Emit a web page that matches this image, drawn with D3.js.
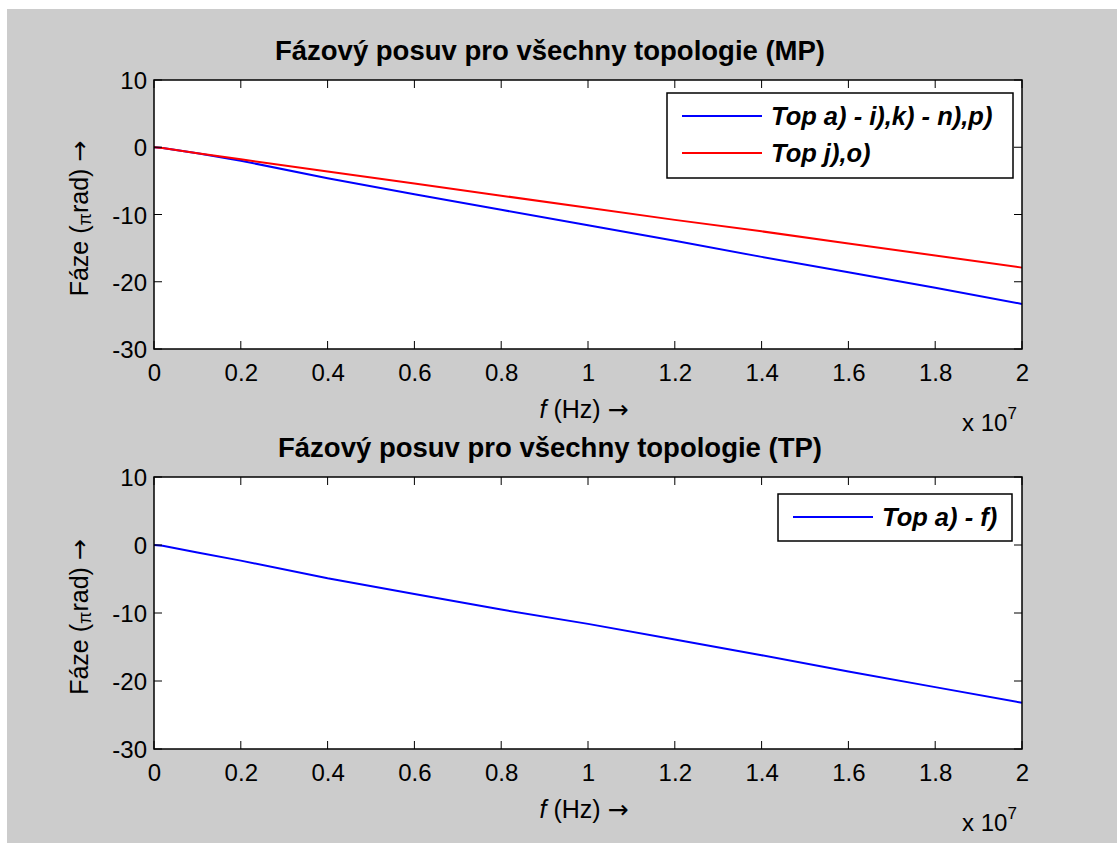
<!DOCTYPE html>
<html><head><meta charset="utf-8">
<script src="https://cdn.jsdelivr.net/npm/d3@7"></script>
<style>
html,body{margin:0;padding:0;background:#fff;}
svg{display:block;}
text{font-family:"Liberation Sans",Arial,sans-serif;fill:#000;}
</style></head>
<body>
<svg id="c" width="1117" height="843"></svg>
<script>
// ---- data ----
const freqMHz10 = [0, 0.02, 0.1, 0.2, 0.4, 0.6, 0.8, 1.0, 1.2, 1.4, 1.6, 1.8, 2.0]; // x in units of 1e7 Hz
const mpBlue = [0, -0.1, -0.9, -2.0, -4.6, -7.0, -9.3, -11.6, -13.9, -16.3, -18.6, -20.9, -23.3];
const mpRed  = [0, -0.1, -0.9, -1.8, -3.6, -5.4, -7.2, -9.0, -10.8, -12.5, -14.3, -16.1, -17.9];
const tpBlue = [0, -0.1, -1.1, -2.3, -4.9, -7.2, -9.5, -11.6, -13.9, -16.2, -18.6, -20.9, -23.2];
const xTicks = [0, 0.2, 0.4, 0.6, 0.8, 1, 1.2, 1.4, 1.6, 1.8, 2];
const yTicks = [10, 0, -10, -20, -30];
const titles = ["Fázový posuv pro všechny topologie (MP)", "Fázový posuv pro všechny topologie (TP)"];
const legendMP = ["Top a) - i),k) - n),p)", "Top j),o)"];
const legendTP = ["Top a) - f)"];

const svg = d3.select("#c");
svg.append("rect").attr("x",7).attr("y",9).attr("width",1110).attr("height",834).attr("fill","#cccccc");

function panel(top, bottom, title, series, legend, legBox) {
  const left = 154, right = 1022;
  const x = d3.scaleLinear().domain([0,2]).range([left,right]);
  const y = d3.scaleLinear().domain([-30,10]).range([bottom,top]);
  const g = svg.append("g");
  g.append("rect").attr("x",left).attr("y",top).attr("width",right-left).attr("height",bottom-top).attr("fill","#fff");
  // lines
  const line = d3.line().x((d,i)=>x(freqMHz10[i])).y(d=>y(d));
  series.forEach(s=>{
    g.append("path").datum(s.v).attr("d",line).attr("fill","none").attr("stroke",s.c).attr("stroke-width",2);
  });
  // axes
  const ax = g.append("g").attr("transform",`translate(0,${bottom})`)
    .call(d3.axisBottom(x).tickValues(xTicks).tickFormat(d=>String(d)).tickSize(0).tickPadding(15));
  ax.select(".domain").remove();
  ax.selectAll("text").attr("font-size",24).attr("font-family","Liberation Sans, Arial, sans-serif");
  const ay = g.append("g").attr("transform",`translate(${left},0)`)
    .call(d3.axisLeft(y).tickValues(yTicks).tickFormat(d=>String(d)).tickSize(0).tickPadding(7));
  ay.select(".domain").remove();
  ay.selectAll("text").attr("font-size",24).attr("dy","0.36em").attr("font-family","Liberation Sans, Arial, sans-serif");
  // inward ticks top/bottom/left/right
  xTicks.forEach(t=>{
    g.append("line").attr("x1",x(t)).attr("x2",x(t)).attr("y1",bottom).attr("y2",bottom-8).attr("stroke","#000");
    g.append("line").attr("x1",x(t)).attr("x2",x(t)).attr("y1",top).attr("y2",top+8).attr("stroke","#000");
  });
  yTicks.forEach(t=>{
    g.append("line").attr("x1",left).attr("x2",left+8).attr("y1",y(t)).attr("y2",y(t)).attr("stroke","#000");
    g.append("line").attr("x1",right).attr("x2",right-8).attr("y1",y(t)).attr("y2",y(t)).attr("stroke","#000");
  });
  g.append("rect").attr("x",left).attr("y",top).attr("width",right-left).attr("height",bottom-top)
    .attr("fill","none").attr("stroke","#000").attr("stroke-width",1.5);
  // title
  g.append("text").attr("x",550).attr("y",top-20).attr("text-anchor","middle")
    .attr("font-size",27.5).attr("font-weight","bold").text(title);
  // x label
  const xl = g.append("text").attr("x",584).attr("y",bottom+69).attr("text-anchor","middle").attr("font-size",25);
  xl.append("tspan").attr("font-style","italic").text("f");
  xl.append("tspan").text(" (Hz) ");
  xl.append("tspan").attr("font-family","DejaVu Sans").text("\u2192");
  const ex = g.append("text").attr("x",962).attr("y",bottom+82).attr("font-size",24);
  ex.append("tspan").text("x 10");
  ex.append("tspan").attr("font-size",17).attr("dy",-12).text("7");
  // y label
  const yl = g.append("text").attr("transform",`translate(88,${(top+bottom)/2 + 4}) rotate(-90)`)
    .attr("text-anchor","middle").attr("font-size",25);
  yl.append("tspan").text("Fáze (");
  yl.append("tspan").attr("font-size",18).attr("dy",3).text("\u03c0");
  yl.append("tspan").attr("dy",-3).text("rad) ");
  yl.append("tspan").attr("font-family","DejaVu Sans").text("\u2192");
  // legend
  g.append("rect").attr("x",legBox.x).attr("y",legBox.y).attr("width",legBox.w).attr("height",legBox.h)
    .attr("fill","#fff").attr("stroke","#000").attr("stroke-width",1.5);
  legend.forEach((t,i)=>{
    const yy = legBox.y + 23 + i*37;
    g.append("line").attr("x1",legBox.x+15).attr("x2",legBox.x+95).attr("y1",yy).attr("y2",yy)
      .attr("stroke",series[i].c).attr("stroke-width",2);
    g.append("text").attr("x",legBox.x+104).attr("y",yy).attr("dy","0.36em").attr("font-size",25.5)
      .attr("font-weight","bold").attr("font-style","italic").text(t);
  });
}

panel(80, 349, titles[0], [{v:mpBlue,c:"#0000ff"},{v:mpRed,c:"#ff0000"}], legendMP, {x:667,y:93,w:346,h:85});
panel(477, 749, titles[1], [{v:tpBlue,c:"#0000ff"}], legendTP, {x:778,y:494,w:234,h:47});
</script>
</body></html>
